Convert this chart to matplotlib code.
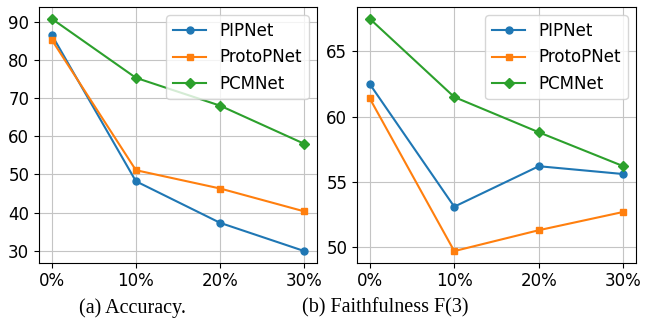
import matplotlib.pyplot as plt

# noise levels on the x axis
levels = ['0%', '10%', '20%', '30%']

# (a) accuracy
acc_pipnet = [86.6, 48.2, 37.3, 29.9]
acc_protopnet = [85.3, 51.1, 46.3, 40.3]
acc_pcmnet = [90.8, 75.3, 68.0, 58.0]

# (b) faithfulness F(3)
faith_pipnet = [62.5, 53.1, 56.2, 55.6]
faith_protopnet = [61.4, 49.7, 51.3, 52.7]
faith_pcmnet = [67.5, 61.5, 58.8, 56.2]

fig = plt.figure(figsize=(6.57, 3.2), dpi=100)
ax1 = fig.add_axes([0.0594, 0.179, 0.4231, 0.799])
ax2 = fig.add_axes([0.5434, 0.179, 0.4247, 0.799])


def draw(ax, pip, proto, pcm):
    x = range(len(levels))
    ax.plot(x, pip, marker='o', markersize=5, color='tab:blue', label='PIPNet')
    ax.plot(x, proto, marker='s', markersize=5, color='tab:orange', label='ProtoPNet')
    ax.plot(x, pcm, marker='D', markersize=5, color='tab:green', label='PCMNet')
    ax.set_xticks(list(x))
    ax.set_xticklabels(levels)
    ax.tick_params(labelsize=12)
    ax.grid(True, color='#c4c4c4', linewidth=0.8)
    ax.legend(loc='upper right', fontsize=12)


draw(ax1, acc_pipnet, acc_protopnet, acc_pcmnet)
draw(ax2, faith_pipnet, faith_protopnet, faith_pcmnet)
ax2.set_yticks([50, 55, 60, 65])

fig.text(0.201, 0.0375, '(a) Accuracy.', ha='center', va='center',
         family='Liberation Serif', fontsize=14.5)
fig.text(0.586, 0.0375, '(b) Faithfulness F(3)', ha='center', va='center',
         family='Liberation Serif', fontsize=14.5)

fig.savefig('out.png', dpi=100)
